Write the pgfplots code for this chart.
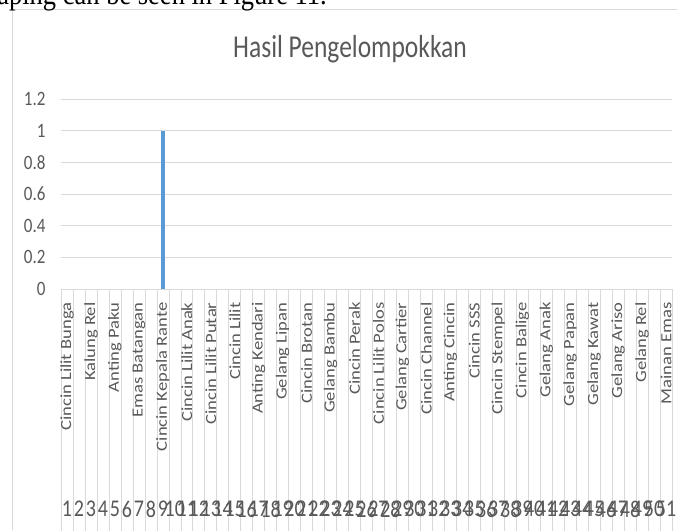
\documentclass[border=0pt]{standalone}
\usepackage{graphicx}
\usepackage{pgfplots}
\pgfplotsset{compat=1.18}
\usepackage{fontspec}
\setmainfont{Carlito}
\newfontfamily\timesfont{Liberation Serif}
\definecolor{barblue}{HTML}{5B9BD5}
\definecolor{gridgray}{HTML}{D9D9D9}
\definecolor{txtgray}{HTML}{595959}
\newcommand{\vs}[1]{\scalebox{1}[1.2]{#1}}
\newcommand{\ls}[1]{\scalebox{1.2}[1]{#1}}
\begin{document}
\begin{tikzpicture}[x=1pt,y=1pt]
\useasboundingbox (0,0) rectangle (677,530);
\draw[gridgray, line width=1pt] (12,0) -- (12,520) -- (677,520);
\node[anchor=base east, font=\timesfont\fontsize{26.5}{26.5}\selectfont, inner sep=0] at (327,525) {\scalebox{1}[1.15]{aping can be seen in Figure 11.}};
\node[anchor=base, font=\fontsize{25.5}{25.5}\selectfont, text=txtgray, inner sep=0] at (350,472) {\scalebox{1}[1.25]{Hasil Pengelompokkan}};
\begin{axis}[at={(61pt,241pt)}, anchor=south west, scale only axis,
  width=611pt, height=190pt,
  xmin=0.5, xmax=51.5, ymin=0, ymax=1.2,
  ytick={0,0.2,0.4,0.6,0.8,1,1.2},
  yticklabels={\vs{0},\vs{0.2},\vs{0.4},\vs{0.6},\vs{0.8},\vs{1},\vs{1.2}},
  ymajorgrids, grid style={gridgray, line width=0.8pt},
  axis line style={draw=none},
  xtick pos=bottom, ytick pos=left,
  major tick length=0pt,
  minor xtick={0.5,1.5,...,51.5},
  minor tick length=245pt,
  tick align=outside,
  minor tick style={gridgray, line width=0.6pt},
  xtick={1,...,51},
  xticklabels={\ls{Cincin Lilit Bunga},,\ls{Kalung Rel},,\ls{Anting Paku},,\ls{Emas Batangan},,\ls{Cincin Kepala Rante},,\ls{Cincin Lilit Anak},,\ls{Cincin Lilit Putar},,\ls{Cincin Lilit},,\ls{Anting Kendari},,\ls{Gelang Lipan},,\ls{Cincin Brotan},,\ls{Gelang Bambu},,\ls{Cincin Perak},,\ls{Cincin Lilit Polos},,\ls{Gelang Cartier},,\ls{Cincin Channel},,\ls{Anting Cincin},,\ls{Cincin SSS},,\ls{Cincin Stempel},,\ls{Cincin Balige},,\ls{Gelang Anak},,\ls{Gelang Papan},,\ls{Gelang Kawat},,\ls{Gelang Ariso},,\ls{Gelang Rel},,\ls{Mainan Emas}},
  xticklabel style={rotate=90, anchor=east, font=\fontsize{15.5}{15.5}\selectfont, text=txtgray},
  xticklabel shift=10pt,
  yticklabel style={font=\fontsize{17}{17}\selectfont, text=txtgray},
  yticklabel shift=12pt,
  /pgf/number format/assume math mode=true,
  clip=false,
]
\addplot[ybar, bar width=4pt, fill=barblue, draw=none] coordinates {(9,1)};
\end{axis}
\begin{axis}[at={(61pt,241pt)}, anchor=south west, scale only axis,
  width=611pt, height=190pt,
  xmin=0.5, xmax=51.5, ymin=0, ymax=1.2,
  axis line style={draw=none}, ytick=\empty,
  xtick={1,...,51}, major tick length=0pt,
  xticklabel={\vs{\pgfmathprintnumber{\tick}}},
  xticklabel style={anchor=center, font=\fontsize{20}{20}\selectfont, text=txtgray, yshift=-220pt},
  /pgf/number format/assume math mode=true,
]
\addplot[draw=none] coordinates {(1,0)};
\end{axis}
\end{tikzpicture}
\end{document}
